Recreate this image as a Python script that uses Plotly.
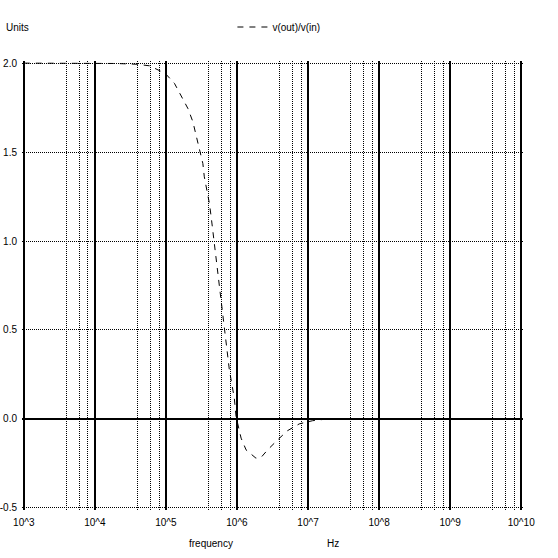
import plotly.graph_objects as go

freq = [1.0e3, 3.16e3, 1.0e4, 2.0e4, 3.8e4, 5.9e4, 9.8e4, 1.32e5, 2.04e5, 2.4e5,
        2.69e5, 2.95e5, 3.31e5, 3.47e5, 3.88e5, 4.09e5, 4.33e5, 4.56e5, 4.82e5,
        5.08e5, 5.36e5, 5.66e5, 5.98e5, 6.30e5, 6.65e5, 7.03e5, 7.40e5, 7.82e5,
        8.43e5, 9.18e5, 9.71e5, 1.057e6, 1.143e6, 1.343e6, 1.853e6, 2.20e6,
        2.70e6, 3.73e6, 5.15e6, 7.52e6, 1.16e7, 1.88e7, 3.8e7]
vout_vin = [2.0, 2.0, 2.0, 1.998, 1.994, 1.985, 1.942, 1.886, 1.745, 1.670,
            1.586, 1.511, 1.436, 1.361, 1.268, 1.212, 1.137, 1.062, 0.987,
            0.893, 0.819, 0.743, 0.669, 0.594, 0.528, 0.434, 0.350, 0.275,
            0.200, 0.116, 0.013, -0.043, -0.108, -0.174, -0.221, -0.215,
            -0.174, -0.118, -0.066, -0.028, -0.010, 0.0, 0.0]

x_tickvals = [1e3, 1e4, 1e5, 1e6, 1e7, 1e8, 1e9, 1e10]
x_ticktext = ["10^3", "10^4", "10^5", "10^6", "10^7", "10^8", "10^9", "10^10"]
x_minorvals = [m * d for d in [1e3, 1e4, 1e5, 1e6, 1e7, 1e8, 1e9] for m in (4, 6, 8)]
y_tickvals = [-0.5, 0.0, 0.5, 1.0, 1.5, 2.0]
y_ticktext = ["-0.5", "0.0", "0.5", "1.0", "1.5", "2.0"]

FONT = "Liberation Sans, Arial, sans-serif"
XRANGE = [2.975, 10.025]
YRANGE = [-0.512, 2.012]

fig = go.Figure()
# invisible carrier trace so the minor-grid overlay axis is drawn
fig.add_trace(go.Scatter(
    x=freq, y=vout_vin, mode="lines", xaxis="x2", yaxis="y",
    line=dict(color="rgba(0,0,0,0)", width=0), showlegend=False, hoverinfo="skip",
))
fig.add_trace(go.Scatter(
    x=freq, y=vout_vin, mode="lines", name="v(out)/v(in)",
    line=dict(color="black", width=1, dash="6px,6px"),
))

fig.update_layout(
    width=558, height=558,
    margin=dict(l=22, r=35, t=61, b=48, autoexpand=False),
    paper_bgcolor="white", plot_bgcolor="white",
    font=dict(family=FONT, size=10, color="black"),
    showlegend=True,
    legend=dict(orientation="h", x=0.42, y=1.0757, xanchor="left", yanchor="middle",
                font=dict(size=10), bgcolor="rgba(0,0,0,0)", itemwidth=30),
    xaxis=dict(
        type="log", range=XRANGE, automargin=False,
        tickmode="array", tickvals=x_tickvals, ticktext=x_ticktext,
        showgrid=True, gridcolor="black", gridwidth=2,
        showline=False, zeroline=False, ticks="", ticklabelstandoff=5,
        tickfont=dict(size=10),
    ),
    xaxis2=dict(
        type="log", range=XRANGE, overlaying="x", anchor="y", automargin=False,
        tickmode="array", tickvals=x_minorvals, showticklabels=False,
        showgrid=True, gridcolor="black", gridwidth=1, griddash="1px,1px",
        showline=False, zeroline=False, ticks="",
    ),
    yaxis=dict(
        range=YRANGE, automargin=False,
        tickmode="array", tickvals=y_tickvals, ticktext=y_ticktext,
        showgrid=True, gridcolor="black", gridwidth=1, griddash="1px,1px",
        zeroline=True, zerolinecolor="black", zerolinewidth=2,
        showline=False, ticks="", ticklabelstandoff=4,
        tickfont=dict(size=10),
    ),
    annotations=[
        dict(text="Units", xref="paper", yref="paper", x=-0.036, y=1.0757,
             xanchor="left", yanchor="middle", showarrow=False, font=dict(size=10)),
        dict(text="frequency", xref="paper", yref="paper", x=0.377, y=-0.0735,
             xanchor="center", yanchor="middle", showarrow=False, font=dict(size=10)),
        dict(text="Hz", xref="paper", yref="paper", x=0.621, y=-0.0735,
             xanchor="center", yanchor="middle", showarrow=False, font=dict(size=10)),
    ],
)

fig.write_html("out.html",
               config={"displayModeBar": False},
               post_script="document.body.style.margin='0';document.body.style.overflow='hidden';")
